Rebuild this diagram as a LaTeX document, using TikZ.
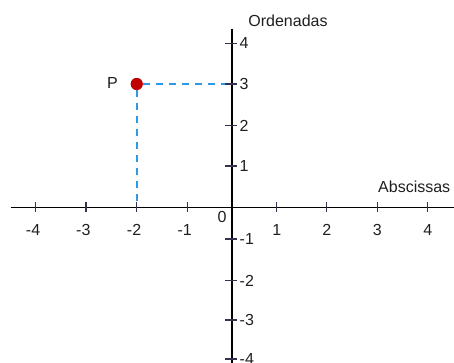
\documentclass[tikz,border=0pt]{standalone}
\usepackage{fontspec}
\setmainfont{Liberation Sans}
\definecolor{dashblue}{HTML}{2E9AE6}
\definecolor{pointred}{HTML}{C00000}
\definecolor{tickgray}{HTML}{33334D}
\begin{document}
\begin{tikzpicture}[
        x=1pt, y=-1pt,
        every node/.style = {font=\fontsize{16}{19}\selectfont, text=black!88, inner sep=0pt},
        axis/.style = {line width=1.6pt, black},
        axtick/.style = {line width=1.3pt, tickgray},
        guide/.style = {dashblue, line width=1.6pt, dash pattern=on 7pt off 6pt}
        ]
        \useasboundingbox (0,0) rectangle (454,363);
        % the point and its guides
        \node[circle, fill=pointred, minimum size=12pt] (P) at (136.7,84) {};
        \node (plabel) at (112.5,83) {P};
        \coordinate (py) at (231.7,84);
        \coordinate (px) at (136.7,207.3);
        \draw[guide] (P) -- (py);
        \draw[guide] (P) -- (px);
        % axes
        \coordinate (xl) at (10.7,207.3);
        \coordinate (xr) at (456,207.3);
        \coordinate (yt) at (231.7,29);
        \coordinate (yb) at (231.7,365);
        \draw[axis] (xl) -- (xr);
        \draw[axis] (yt) -- (yb);
        \node[anchor=west] (abs) at (378,187) {Abscissas};
        \node (ord) at (288,21) {Ordenadas};
        \node (zero) at (222,217) {0};
        % ticks on the x axis
        \foreach \v/\px [count=\i] in {-4/35.7, -3/86, -2/136.7, -1/187.3, 1/276.7, 2/326.7, 3/377.3, 4/427.7} {
            \pgfmathtruncatemacro\a{abs(\v)}
            \draw[axtick] (\px,202) -- (\px,212);
            \node (xlab\i) at (\px,229.5) {\ifnum\v<0 \llap{-}\fi\a};
        }
        % ticks on the y axis
        \foreach \v/\py [count=\i] in {4/43.3, 3/84, 2/125.7, 1/166, -1/239, -2/280.7, -3/320, -4/359} {
            \draw[axtick] (225,\py) -- (236.7,\py);
            \node[anchor=west] (ylab\i) at (239.5,\py) {\v};
        }
        \node[circle, fill=pointred, minimum size=12pt] at (P) {};
\end{tikzpicture}
\end{document}
